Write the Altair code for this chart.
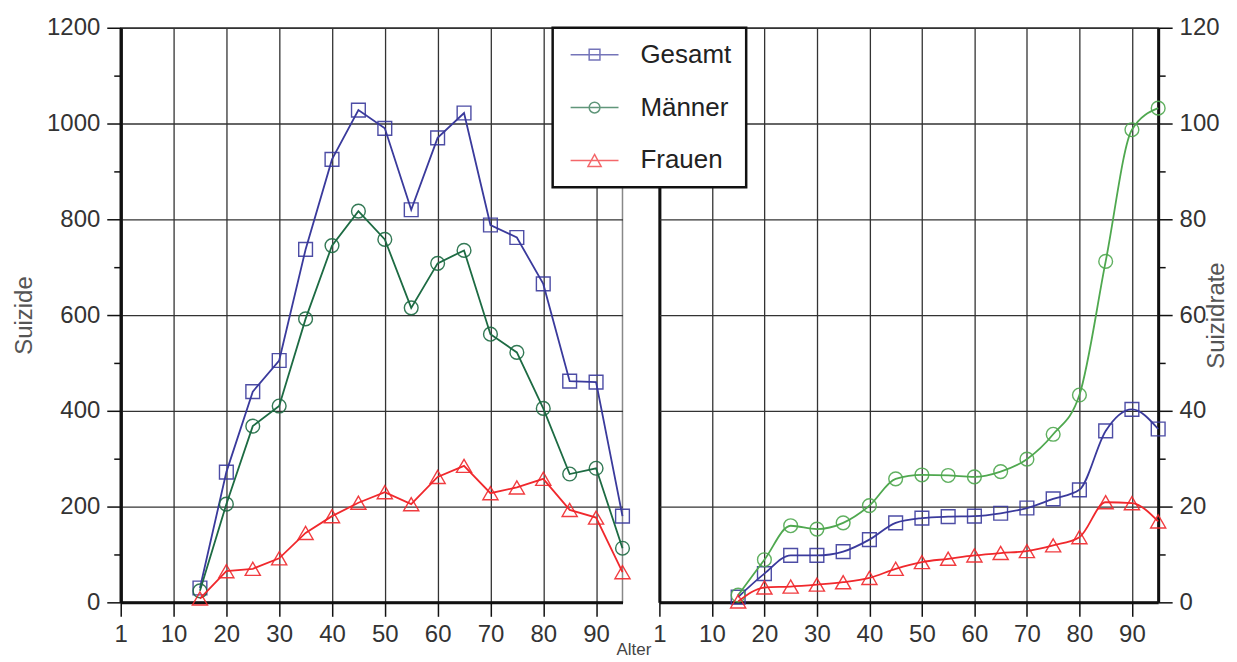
import altair as alt
import pandas as pd

# ---- data ----
alter = [15, 20, 25, 30, 35, 40, 45, 50, 55, 60, 65, 70, 75, 80, 85, 90, 95]
serien = ["Gesamt", "Männer", "Frauen"]

suizide_gesamt = [30, 272, 440, 505, 737, 925, 1028, 990, 820, 970, 1022, 788, 762, 665, 462, 460, 180]
suizide_maenner = [24, 205, 368, 410, 592, 745, 817, 758, 615, 708, 735, 560, 522, 405, 268, 280, 113]
suizide_frauen = [8, 65, 70, 92, 145, 180, 208, 230, 205, 262, 285, 228, 240, 258, 193, 177, 63]

rate_gesamt = [1.1, 6.0, 9.8, 9.8, 10.6, 13.1, 16.6, 17.6, 17.9, 18.0, 18.6, 19.7, 21.6, 23.5, 35.8, 40.3, 36.2]
rate_maenner = [1.5, 8.9, 16.0, 15.3, 16.6, 20.2, 25.8, 26.6, 26.5, 26.2, 27.3, 29.9, 35.1, 43.3, 71.2, 98.7, 103.2]
rate_frauen = [0.2, 3.1, 3.3, 3.7, 4.2, 5.1, 7.0, 8.4, 9.1, 9.8, 10.3, 10.7, 11.9, 13.6, 20.9, 20.7, 16.9]

x_ticks = [0, 10, 20, 30, 40, 50, 60, 70, 80, 90]
x_tick_labels = ["1", "10", "20", "30", "40", "50", "60", "70", "80", "90"]
y_ticks_links = list(range(0, 1201, 50))
y_ticks_rechts = list(range(0, 121, 5))

farben_links = ["#3a3a9c", "#1d6b43", "#f0282c"]
farben_rechts = ["#3a3a9c", "#4fa84f", "#f0282c"]
marker = ["square", "circle", "triangle-up"]
marker_size = [190, 190, 230]

legend_paths = [
    "M-2,0H2M-0.45,-0.45H0.45V0.45H-0.45Z",
    "M-2,0H2M0.45,0A0.45,0.45,0,1,1,-0.45,0A0.45,0.45,0,1,1,0.45,0",
    "M-2,0H2M0,-0.5L0.55,0.5H-0.55Z",
]


def long_df(werte):
    rows = []
    for name, vals in zip(serien, werte):
        for a, v in zip(alter, vals):
            rows.append({"Alter": a, "Wert": v, "Serie": name})
    return pd.DataFrame(rows)


df_links = long_df([suizide_gesamt, suizide_maenner, suizide_frauen])
df_rechts = long_df([rate_gesamt, rate_maenner, rate_frauen])

FONT = "Liberation Sans"
label_expr_x = f"datum.value == {x_ticks[0]} ? '{x_tick_labels[0]}' : datum.label"
edge_test = f"datum.value === {x_ticks[0]}"

x_scale = alt.Scale(domain=[0, 95], nice=False, zero=False)


def x_axis(title=None, **kw):
    return alt.Axis(values=x_ticks, labelExpr=label_expr_x, format="d", labelFlush=False,
                    tickSize=14, labelPadding=6, grid=True, title=title, labelOverlap=False,
                    gridWidth={"condition": {"test": edge_test, "value": 3}, "value": 1.3},
                    gridColor={"condition": {"test": edge_test, "value": "#111"}, "value": "#333"},
                    **kw)


def y_axis(values, step, orient, title, pad, **kw):
    test = f"datum.value % {step} === 0"
    return alt.Axis(values=values, orient=orient, format="d", grid=True,
                    labelExpr=f"{test} ? datum.label : ''",
                    tickSize={"condition": {"test": test, "value": 14}, "value": 7},
                    gridColor={"condition": {"test": test, "value": "#333"}, "value": "transparent"},
                    gridWidth=1.3,
                    labelOverlap=False, labelFlush=False, labelPadding=pad,
                    title=title, titleAngle=270, titleBaseline="middle", titleAlign="center",
                    **kw)


def panel(df, farben, interp, yscale, xax, yax):
    layers = []
    for i, name in enumerate(serien):
        base = alt.Chart(df).transform_filter(alt.datum.Serie == name)
        if i == 0:
            xe = alt.X("Alter:Q", scale=x_scale, axis=xax)
            ye = alt.Y("Wert:Q", scale=yscale, axis=yax)
        else:
            xe = alt.X("Alter:Q", scale=x_scale)
            ye = alt.Y("Wert:Q", scale=yscale)
        line = base.mark_line(color=farben[i], strokeWidth=1.8, interpolate=interp).encode(x=xe, y=ye)
        pts = base.mark_point(shape=marker[i], color=farben[i], filled=False,
                              size=marker_size[i], strokeWidth=1.4, opacity=0.9).encode(
            x=alt.X("Alter:Q", scale=x_scale), y=alt.Y("Wert:Q", scale=yscale))
        layers += [line, pts]
    return layers


# left panel
yscale_links = alt.Scale(domain=[0, 1200], nice=False)
links_layers = panel(
    df_links, farben_links, "linear", yscale_links,
    x_axis(title="Alter", titleX=514, titleY=39, titleAlign="center", titleBaseline="top",
           titleFontSize=17, titleColor="#444"),
    y_axis(y_ticks_links, 200, "left", "Suizide", 7, titleX=-96, titleY=288),
)
links = alt.layer(*links_layers).properties(width=503, height=576)

# right panel
yscale_rechts = alt.Scale(domain=[0, 120], nice=False)
rechts_layers = panel(
    df_rechts, farben_rechts, "monotone", yscale_rechts,
    x_axis(),
    y_axis(y_ticks_rechts, 20, "right", "Suizidrate", 7, titleX=58, titleY=288),
)

legend_layer = alt.Chart(df_rechts).transform_filter("false").mark_point(filled=False).encode(
    x=alt.X("Alter:Q", scale=x_scale),
    y=alt.Y("Wert:Q", scale=yscale_rechts),
    color=alt.Color("Serie:N", scale=alt.Scale(domain=serien, range=farben_links),
                    legend=alt.Legend(title=None, orient="none", legendX=-107, legendY=0)),
    shape=alt.Shape("Serie:N", scale=alt.Scale(domain=serien, range=legend_paths),
                    legend=alt.Legend(title=None, orient="none", legendX=-107, legendY=0)),
)
rechts = alt.layer(*rechts_layers, legend_layer).properties(width=500, height=576)

chart = alt.hconcat(links, rechts, spacing=37, bounds="flush").resolve_scale(
    color="independent", shape="independent"
).properties(
    padding={"left": 4, "top": 6, "right": 0, "bottom": 0}
).configure_view(
    stroke="#888", strokeWidth=1.5
).configure_axis(
    domainColor="#111", domainWidth=3, tickColor="#111", tickWidth=1.5,
    labelFont=FONT, labelFontSize=24, labelColor="#333",
    titleFont=FONT, titleFontSize=24, titleColor="#555", titleFontWeight="normal",
).configure_legend(
    labelFont=FONT, labelFontSize=26, labelColor="#222",
    symbolSize=576, symbolStrokeWidth=1.5, symbolOffset=15, labelOffset=33,
    padding=14, rowPadding=27, strokeColor="#111", strokeWidth=2.5, fillColor="white",
    zindex=3,
)

chart.save("out.html", embed_options={"renderer": "svg", "actions": False})
